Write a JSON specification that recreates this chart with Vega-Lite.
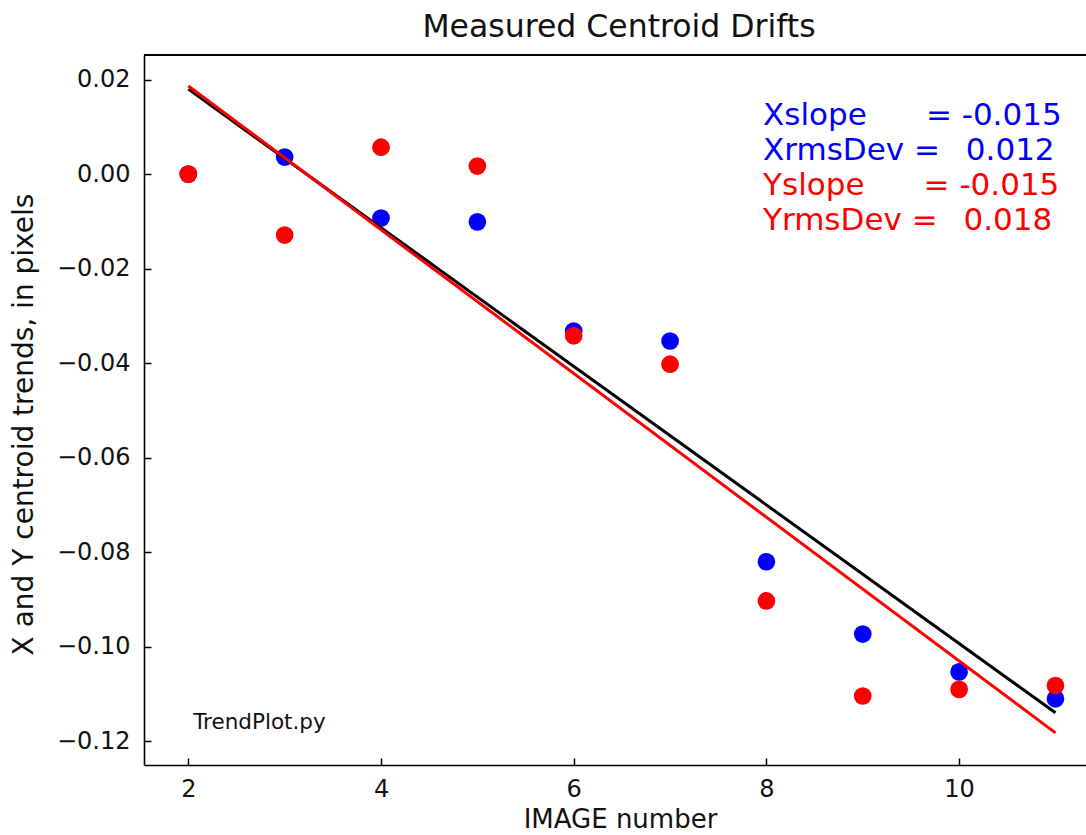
{
  "$schema": "https://vega.github.io/schema/vega-lite/v6.json",
  "width": 942,
  "height": 710,
  "autosize": {"type": "none"},
  "padding": {"left": 144, "top": 55, "right": 0, "bottom": 70},
  "background": "white",
  "config": {
    "view": {"stroke": null},
    "font": "DejaVu Sans",
    "axis": {
      "grid": false,
      "domainColor": "black",
      "domainWidth": 1.6,
      "tickColor": "black",
      "tickWidth": 1.5,
      "tickSize": -7,
      "labelFont": "DejaVu Sans",
      "labelFontSize": 24,
      "labelColor": "#111",
      "titleFont": "DejaVu Sans",
      "titleFontSize": 26,
      "titleFontWeight": "normal",
      "titleColor": "#111"
    }
  },
  "title": {
    "text": "Measured Centroid Drifts",
    "fontSize": 31.5,
    "font": "DejaVu Sans",
    "fontWeight": "normal",
    "color": "#111",
    "offset": 11,
    "dx": 4
  },
  "data": {
    "values": [
      {"image": 2, "drift": 0.0, "axis": "X"},
      {"image": 3, "drift": 0.0036, "axis": "X"},
      {"image": 4, "drift": -0.0093, "axis": "X"},
      {"image": 5, "drift": -0.0101, "axis": "X"},
      {"image": 6, "drift": -0.0332, "axis": "X"},
      {"image": 7, "drift": -0.0353, "axis": "X"},
      {"image": 8, "drift": -0.082, "axis": "X"},
      {"image": 9, "drift": -0.0973, "axis": "X"},
      {"image": 10, "drift": -0.1053, "axis": "X"},
      {"image": 11, "drift": -0.111, "axis": "X"},
      {"image": 2, "drift": 0.0, "axis": "Y"},
      {"image": 3, "drift": -0.0129, "axis": "Y"},
      {"image": 4, "drift": 0.0057, "axis": "Y"},
      {"image": 5, "drift": 0.0017, "axis": "Y"},
      {"image": 6, "drift": -0.0342, "axis": "Y"},
      {"image": 7, "drift": -0.0402, "axis": "Y"},
      {"image": 8, "drift": -0.0903, "axis": "Y"},
      {"image": 9, "drift": -0.1104, "axis": "Y"},
      {"image": 10, "drift": -0.109, "axis": "Y"},
      {"image": 11, "drift": -0.1082, "axis": "Y"}
    ]
  },
  "layer": [
    {
      "mark": {"type": "point", "filled": true, "size": 314, "opacity": 1, "strokeWidth": 0},
      "encoding": {
        "x": {
          "field": "image",
          "type": "quantitative",
          "scale": {"domain": [1.54, 11.317], "nice": false, "zero": false},
          "axis": {"values": [2, 4, 6, 8, 10], "format": "d", "title": "IMAGE number", "labelPadding": 19, "titlePadding": 5, "titleX": 476}
        },
        "y": {
          "field": "drift",
          "type": "quantitative",
          "scale": {"domain": [-0.125, 0.0252], "nice": false, "zero": false},
          "axis": {
            "values": [-0.12, -0.1, -0.08, -0.06, -0.04, -0.02, 0, 0.02],
            "labelExpr": "replace(format(datum.value, '.2f'), '-', '\u2212')",
            "title": "X and Y centroid trends, in pixels",
            "titleFontSize": 28,
            "labelPadding": 21,
            "titlePadding": 18,
            "titleY": 369
          }
        },
        "fill": {
          "field": "axis",
          "type": "nominal",
          "scale": {"domain": ["X", "Y"], "range": ["#0000ff", "#ff0000"]},
          "legend": null
        }
      }
    },
    {
      "transform": [{"regression": "drift", "on": "image", "groupby": ["axis"]}],
      "mark": {"type": "line", "strokeWidth": 3},
      "encoding": {
        "x": {"field": "image", "type": "quantitative"},
        "y": {"field": "drift", "type": "quantitative"},
        "stroke": {
          "field": "axis",
          "type": "nominal",
          "scale": {"domain": ["X", "Y"], "range": ["#000000", "#ff0000"]},
          "legend": null
        }
      }
    },
    {
      "mark": {"type": "rule", "color": "black", "strokeWidth": 1.6},
      "encoding": {"y": {"datum": 0.0252}}
    },
    {
      "data": {"values": [{"t": "Xslope\u00a0\u00a0\u00a0\u00a0\u00a0\u00a0= -0.015"}]},
      "mark": {"type": "text", "align": "left", "baseline": "alphabetic", "fontSize": 31, "font": "DejaVu Sans", "color": "#0000ff"},
      "encoding": {"x": {"datum": 7.965}, "y": {"datum": 0.01036}, "text": {"field": "t"}}
    },
    {
      "data": {"values": [{"t": "XrmsDev =\u00a0\u00a0\u20090.012"}]},
      "mark": {"type": "text", "align": "left", "baseline": "alphabetic", "fontSize": 31, "font": "DejaVu Sans", "color": "#0000ff"},
      "encoding": {"x": {"datum": 7.965}, "y": {"datum": 0.00296}, "text": {"field": "t"}}
    },
    {
      "data": {"values": [{"t": "Yslope\u00a0\u00a0\u00a0\u00a0\u00a0\u00a0= -0.015"}]},
      "mark": {"type": "text", "align": "left", "baseline": "alphabetic", "fontSize": 31, "font": "DejaVu Sans", "color": "#ff0000"},
      "encoding": {"x": {"datum": 7.965}, "y": {"datum": -0.00444}, "text": {"field": "t"}}
    },
    {
      "data": {"values": [{"t": "YrmsDev =\u00a0\u00a0\u20090.018"}]},
      "mark": {"type": "text", "align": "left", "baseline": "alphabetic", "fontSize": 31, "font": "DejaVu Sans", "color": "#ff0000"},
      "encoding": {"x": {"datum": 7.965}, "y": {"datum": -0.01184}, "text": {"field": "t"}}
    },
    {
      "data": {"values": [{"t": "TrendPlot.py"}]},
      "mark": {"type": "text", "align": "left", "baseline": "alphabetic", "fontSize": 21.5, "font": "DejaVu Sans", "color": "#111"},
      "encoding": {"x": {"datum": 2.05}, "y": {"datum": -0.1174}, "text": {"field": "t"}}
    }
  ]
}
